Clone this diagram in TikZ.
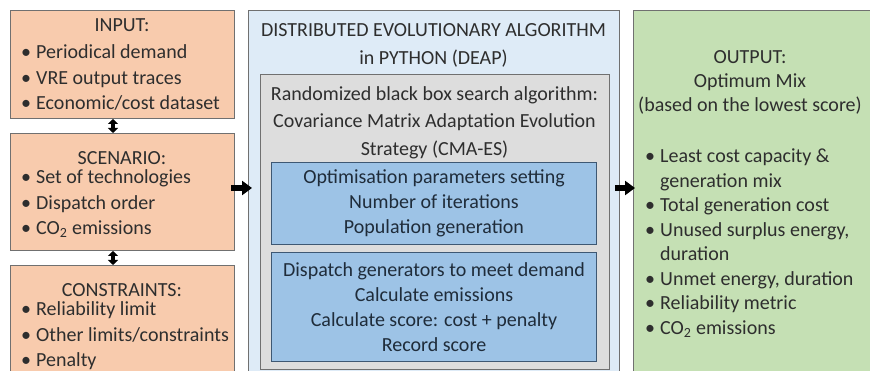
\documentclass[tikz,border=0pt]{standalone}
\usepackage{fontspec}
\setmainfont{Carlito}
\usetikzlibrary{arrows.meta}

\definecolor{inputfill}{HTML}{F8CBAD}
\definecolor{deapfill}{HTML}{DEEBF7}
\definecolor{cmafill}{HTML}{DDDDDD}
\definecolor{stepfill}{HTML}{9DC3E6}
\definecolor{outfill}{HTML}{C5E0B4}
\definecolor{edge}{HTML}{707070}
\definecolor{stepedge}{HTML}{3E5873}
\definecolor{ink}{HTML}{2E2E2E}

\newcommand{\itm}{\makebox[15pt][l]{\textbullet}}
\newcommand{\cont}{\hspace*{15pt}}

\tikzset{
  box/.style={draw=edge, line width=1pt, inner sep=0pt, anchor=north west},
  txt/.style={text=ink, inner sep=0pt, font=\fontsize{20}{25.5}\selectfont},
  list/.style={txt, align=left, anchor=west},
  bigarrow/.style={-{Triangle[length=10pt,width=14pt]}, line width=6pt, black},
  dblarrow/.style={{Triangle[length=5pt,width=10pt]}-{Triangle[length=5pt,width=10pt]}, line width=3.5pt, black}
}

\begin{document}
\begin{tikzpicture}[x=1pt,y=-1pt]
\useasboundingbox (0,0) rectangle (870,371);
\clip (0,0) rectangle (870,371);
\fill [white] (0,0) rectangle (870,371);
% left column
\node [box, fill=inputfill, minimum width=224pt, minimum height=108pt] (input) at (10,10) {};
\node [box, fill=inputfill, minimum width=224pt, minimum height=117pt] (scenario) at (10,133) {};
\node [box, fill=inputfill, minimum width=224pt, minimum height=120pt] (constraints) at (10,265) {};
\node [txt] at (122,25) {INPUT:};
\node [list] at (21,77.5) {\itm Periodical demand\\ \itm VRE output traces\\ \itm Economic/cost dataset};
\node [txt] at (122,158) {SCENARIO:};
\node [list] at (21,204) {\itm Set of technologies\\ \itm Dispatch order\\ \itm CO\textsubscript{2} emissions};
\node [txt] at (122,290) {CONSTRAINTS:};
\node [list] at (21,336) {\itm Reliability limit\\ \itm Other limits/constraints\\ \itm Penalty};
% middle column
\node [box, fill=deapfill, minimum width=371pt, minimum height=380pt] (deap) at (248,10) {};
\node [txt, align=center, font=\fontsize{20}{28}\selectfont] at (433.5,45) {DISTRIBUTED EVOLUTIONARY ALGORITHM\\ in PYTHON (DEAP)};
\node [box, fill=cmafill, minimum width=349pt, minimum height=295pt] (cma) at (260,74) {};
\node [txt, align=center, font=\fontsize{20}{27.5}\selectfont] at (434.5,122.5) {Randomized black box search algorithm:\\ Covariance Matrix Adaptation Evolution\\ Strategy (CMA-ES)};
\node [box, draw=stepedge, fill=stepfill, minimum width=325pt, minimum height=82pt] (params) at (271,162) {};
\node [txt, align=center, text=stepedge!50!black, font=\fontsize{20}{25}\selectfont] at (params.center) {Optimisation parameters setting\\ Number of iterations\\ Population generation};
\node [box, draw=stepedge, fill=stepfill, minimum width=325pt, minimum height=109pt] (dispatch) at (271,252) {};
\node [txt, align=center, text=stepedge!50!black, font=\fontsize{20}{25}\selectfont] at (dispatch.center) {Dispatch generators to meet demand\\ Calculate emissions\\ Calculate score: cost + penalty\\ Record score};
% right column
\node [box, fill=outfill, minimum width=250pt, minimum height=380pt] (output) at (633,10) {};
\node [txt, align=center, font=\fontsize{20}{24}\selectfont] at (750,82) {OUTPUT:\\ Optimum Mix\\ (based on the lowest score)};
\node [list, font=\fontsize{20}{24.5}\selectfont] at (645,243) {\itm Least cost capacity \&\\ \cont generation mix\\ \itm Total generation cost\\ \itm Unused surplus energy,\\ \cont duration\\ \itm Unmet energy, duration\\ \itm Reliability metric\\ \itm CO\textsubscript{2} emissions};
% connectors
\draw [dblarrow] (input.south -| 113,0) -- (scenario.north -| 113,0);
\draw [dblarrow] (scenario.south -| 113,0) -- (constraints.north -| 113,0);
\draw [bigarrow, shorten <=-3pt, shorten >=-4pt] (234,188) -- (deap.west |- 0,188);
\draw [bigarrow, shorten <=-5pt, shorten >=-2pt] (deap.east |- 0,188) -- (output.west |- 0,188);
\end{tikzpicture}
\end{document}
